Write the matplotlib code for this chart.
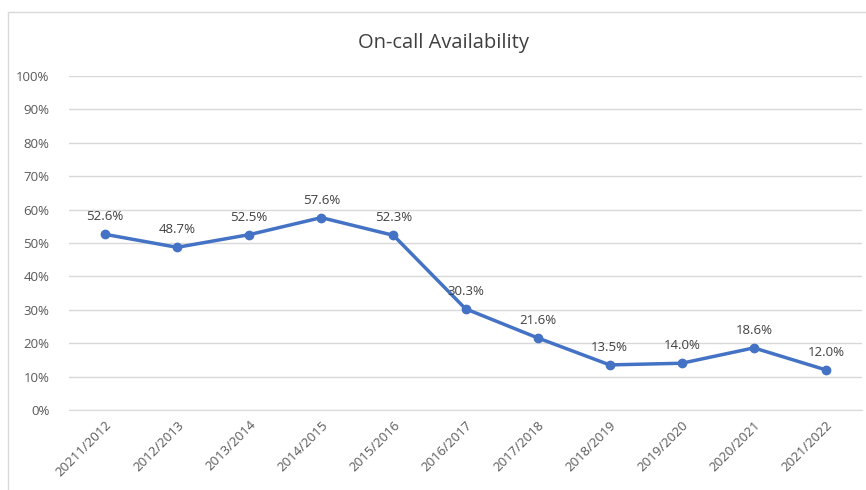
import matplotlib.pyplot as plt
from matplotlib.patches import Rectangle
from matplotlib.ticker import PercentFormatter

# データ
years = ['20211/2012', '2012/2013', '2013/2014', '2014/2015', '2015/2016',
         '2016/2017', '2017/2018', '2018/2019', '2019/2020', '2020/2021', '2021/2022']
availability = [52.6, 48.7, 52.5, 57.6, 52.3, 30.3, 21.6, 13.5, 14.0, 18.6, 12.0]

plt.rcParams['font.family'] = ['Open Sans', 'DejaVu Sans']

fig = plt.figure(figsize=(8.66, 4.9), dpi=100)
# 外枠
fig.patches.append(Rectangle((8 / 866, -0.1), 1.0, 1 - 12 / 490 + 0.1,
                             transform=fig.transFigure, fill=False,
                             edgecolor='#d9d9d9', linewidth=1))

ax = fig.add_axes([69 / 866, 1 - 410 / 490, (862 - 69) / 866, (410 - 76) / 490])
x = list(range(len(years)))
ax.plot(x, availability, color='#4472c4', linewidth=2.5, marker='o', markersize=6)

for xi, v in zip(x, availability):
    ax.annotate(f'{v:.1f}%', (xi, v), xytext=(0, 8), textcoords='offset points',
                ha='center', va='bottom', fontsize=9.5, color='#404040')

ax.set_xlim(-0.5, len(years) - 0.5)
ax.set_ylim(0, 100)
ax.set_yticks(range(0, 101, 10))
ax.yaxis.set_major_formatter(PercentFormatter(decimals=0))
ax.set_xticks(x)
ax.set_xticklabels(years, rotation=45, ha='right', rotation_mode='anchor')
ax.tick_params(axis='both', length=0, labelsize=9.5, labelcolor='#595959')
ax.tick_params(axis='y', pad=14)
ax.tick_params(axis='x', pad=6)
ax.grid(axis='y', color='#d9d9d9', linewidth=1)
ax.set_axisbelow(True)
for s in ['top', 'right', 'left']:
    ax.spines[s].set_visible(False)
ax.spines['bottom'].set_color('#d9d9d9')

fig.text(444 / 866, 1 - 43 / 490, 'On-call Availability', ha='center', va='center',
         fontsize=14.5, color='#404040')

fig.savefig('out.png', dpi=100)
